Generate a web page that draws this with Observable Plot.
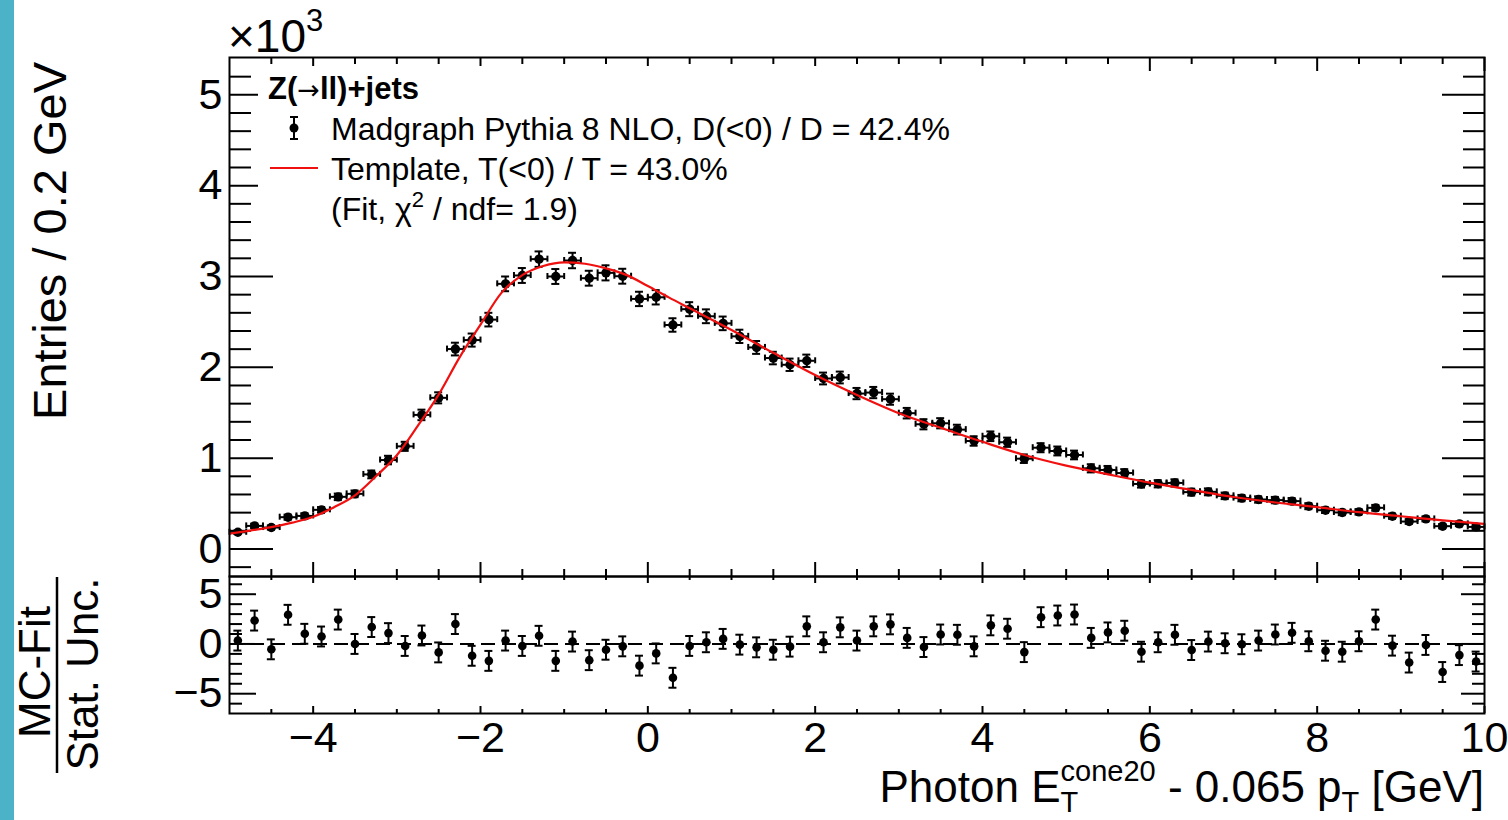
<!DOCTYPE html>
<html><head><meta charset="utf-8">
<script src="https://cdn.jsdelivr.net/npm/d3@7"></script>
<script src="https://cdn.jsdelivr.net/npm/@observablehq/plot@0.6"></script>
<style>
html,body{margin:0;padding:0;background:#fff;}
#wrap{position:relative;width:1508px;height:820px;overflow:hidden;background:#fff;}
#stripe{position:absolute;left:0;top:0;width:14px;height:820px;background:#4cb2c8;}
.layer{position:absolute;left:0;top:0;}
</style></head>
<body><div id="wrap"><div id="stripe"></div></div>
<script>
// ---------------- data ----------------
const binCenters = [-4.9,-4.7,-4.5,-4.3,-4.1,-3.9,-3.7,-3.5,-3.3,-3.1,-2.9,-2.7,-2.5,-2.3,-2.1,-1.9,-1.7,-1.5,-1.3,-1.1,-0.9,-0.7,-0.5,-0.3,-0.1,
  0.1,0.3,0.5,0.7,0.9,1.1,1.3,1.5,1.7,1.9,2.1,2.3,2.5,2.7,2.9,3.1,3.3,3.5,3.7,3.9,4.1,4.3,4.5,4.7,4.9,
  5.1,5.3,5.5,5.7,5.9,6.1,6.3,6.5,6.7,6.9,7.1,7.3,7.5,7.7,7.9,8.1,8.3,8.5,8.7,8.9,9.1,9.3,9.5,9.7,9.9];
const entries = [184,254,236,350,364,431,574,607,821,979,1130,1476,1664,2201,2300,2525,2919,3011,3191,3000,3176,2981,3040,3003,2753,
  2771,2466,2640,2562,2484,2341,2219,2102,2028,2072,1877,1888,1711,1722,1649,1495,1373,1384,1314,1189,1241,1175,994,1115,1079,
  1035,888,870,836,716,718,727,626,629,585,560,545,538,527,471,427,402,409,453,361,302,331,251,276,243];
const entryErrors = [20,24,23,28,29,31,36,37,43,47,50,58,61,70,72,75,81,82,85,82,85,82,83,82,79,
  79,74,77,76,75,73,71,69,68,68,65,65,62,62,61,58,56,56,54,52,53,51,47,50,49,
  48,45,44,43,40,40,40,38,38,36,35,35,35,34,33,31,30,30,32,29,26,27,24,25,23];
const pulls = [0.34,2.35,-0.54,2.93,1.02,0.75,2.45,0.0,1.70,1.09,-0.2,0.85,-0.85,2.0,-1.19,-1.70,0.34,-0.2,0.82,-1.70,0.24,-1.63,-0.58,-0.24,-2.18,
  -0.95,-3.40,-0.2,0.17,0.51,-0.07,-0.34,-0.58,-0.27,1.77,0.17,1.67,0.34,1.77,1.97,0.61,-0.31,0.95,0.92,-0.24,1.87,1.53,-0.82,2.69,2.86,
  2.96,0.61,1.16,1.33,-0.78,0.17,0.92,-0.61,0.24,0.07,-0.03,0.34,0.95,1.12,0.27,-0.68,-0.78,0.27,2.45,-0.17,-1.87,-0.10,-2.82,-1.12,-1.77];
const fitX = [-5,-4.75,-4.5,-4.25,-4,-3.75,-3.5,-3.25,-3,-2.75,-2.5,-2.25,-2,-1.75,-1.5,-1.25,-1,-0.75,-0.5,-0.25,0,0.25,0.5,1,1.5,2,2.5,3,3.5,4,4.5,5,5.5,6,6.5,7,7.5,8,8.5,9,9.5,10];
const fitY = [170,203,240,290,355,460,590,800,1032,1355,1700,2110,2470,2820,3015,3115,3155,3140,3090,3015,2895,2770,2650,2410,2160,1915,1695,1495,1335,1180,1035,918,822,730,650,572,512,460,405,360,315,275];

const xMajorTicks = [-4,-2,0,2,4,6,8,10];
const xTickLabels = ["\u22124","\u22122","0","2","4","6","8","10"];
const xMinorTicks = [-4.5,-3.5,-3,-2.5,-1.5,-1,-0.5,0.5,1,1.5,2.5,3,3.5,4.5,5,5.5,6.5,7,7.5,8.5,9,9.5];
const yMajorTicks = [0,1000,2000,3000,4000,5000];
const yTickLabels = ["0","1","2","3","4","5"];
const yMinorTicks = [-200,200,400,600,800,1200,1400,1600,1800,2200,2400,2600,2800,3200,3400,3600,3800,4200,4400,4600,4800,5200];
const pullMajorTicks = [-5,0,5];
const pullTickLabels = ["\u22125","0","5"];
const pullMinorTicks = [-6,-4,-3,-2,-1,1,2,3,4,6];

// ---------------- layout ----------------
const FONT = '"Liberation Sans", Arial, Helvetica, sans-serif';
const W = 1508, H = 820, L = 229, R = 1484, T = 57, MID = 576, B = 713;
const frameW = R - L, upperH = MID - T, lowerH = B - MID;

const pts = binCenters.map((x, i) => ({x, y: entries[i], err: entryErrors[i]}));
const pullPts = binCenters.map((x, i) => ({x, p: pulls[i]}));
const fit = fitX.map((x, i) => ({x, y: fitY[i]}));
const K = {stroke: "#000", strokeWidth: 2};

const upper = Plot.plot({
  width: W, height: H,
  marginLeft: L, marginRight: W - R, marginTop: T, marginBottom: H - MID,
  x: {domain: [-5, 10], axis: null},
  y: {domain: [-303, 5411], axis: null},
  style: {background: "transparent", fontFamily: FONT, overflow: "visible"},
  marks: [
    Plot.tickY(yMajorTicks, {y: d => d, ...K, insetRight: frameW - 44}),
    Plot.tickY(yMinorTicks, {y: d => d, ...K, insetRight: frameW - 22}),
    Plot.tickY(yMajorTicks, {y: d => d, ...K, insetLeft: frameW - 42}),
    Plot.tickY(yMinorTicks, {y: d => d, ...K, insetLeft: frameW - 21}),
    Plot.tickX(xMajorTicks, {x: d => d, ...K, insetTop: upperH - 14}),
    Plot.tickX(xMinorTicks, {x: d => d, ...K, insetTop: upperH - 7}),
    Plot.tickX(xMajorTicks, {x: d => d, ...K, insetBottom: upperH - 14}),
    Plot.tickX(xMinorTicks, {x: d => d, ...K, insetBottom: upperH - 7}),
    Plot.text(yMajorTicks, {y: d => d, text: (d, i) => yTickLabels[i], frameAnchor: "left", textAnchor: "end", lineAnchor: "middle", dx: -7, fontSize: 43, fill: "#000"}),
    // horizontal bin-width bars with end caps
    Plot.ruleY(pts, {y: "y", x1: d => d.x - 0.1, x2: d => d.x + 0.1, ...K}),
    Plot.ruleX(pts, {x: d => d.x - 0.1, y1: "y", y2: "y", insetTop: -3, insetBottom: -3, ...K}),
    Plot.ruleX(pts, {x: d => d.x + 0.1, y1: "y", y2: "y", insetTop: -3, insetBottom: -3, ...K}),
    // vertical stat bars with caps
    Plot.ruleX(pts, {x: "x", y1: d => d.y - d.err, y2: d => d.y + d.err, ...K}),
    Plot.ruleY(pts, {y: d => d.y + d.err, x1: "x", x2: "x", insetLeft: -4, insetRight: -4, ...K}),
    Plot.ruleY(pts, {y: d => d.y - d.err, x1: "x", x2: "x", insetLeft: -4, insetRight: -4, ...K}),
    Plot.dot(pts, {x: "x", y: "y", r: 4.7, fill: "#000"}),
    Plot.line(fit, {x: "x", y: "y", curve: "monotone-x", stroke: "#f01010", strokeWidth: 2.2, clip: true}),
    Plot.frame({stroke: "#000", strokeWidth: 2})
  ]
});

const lower = Plot.plot({
  width: W, height: H,
  marginLeft: L, marginRight: W - R, marginTop: MID, marginBottom: H - B,
  x: {domain: [-5, 10], axis: null},
  y: {domain: [-6.99, 6.78], axis: null},
  style: {background: "transparent", fontFamily: FONT, overflow: "visible"},
  marks: [
    Plot.tickY(pullMajorTicks, {y: d => d, ...K, insetRight: frameW - 27}),
    Plot.tickY(pullMinorTicks, {y: d => d, ...K, insetRight: frameW - 13}),
    Plot.tickY(pullMajorTicks, {y: d => d, ...K, insetLeft: frameW - 23}),
    Plot.tickY(pullMinorTicks, {y: d => d, ...K, insetLeft: frameW - 12}),
    Plot.tickX(xMajorTicks, {x: d => d, ...K, insetTop: lowerH - 7}),
    Plot.tickX(xMinorTicks, {x: d => d, ...K, insetTop: lowerH - 4}),
    Plot.tickX(xMajorTicks, {x: d => d, ...K, insetBottom: lowerH - 7}),
    Plot.tickX(xMinorTicks, {x: d => d, ...K, insetBottom: lowerH - 4}),
    Plot.text(pullMajorTicks, {y: d => d, text: (d, i) => pullTickLabels[i], frameAnchor: "left", textAnchor: "end", lineAnchor: "middle", dx: -7, fontSize: 43, fill: "#000"}),
    Plot.text(xMajorTicks, {x: d => d, text: (d, i) => xTickLabels[i], frameAnchor: "bottom", lineAnchor: "middle", dy: 25, fontSize: 43, fill: "#000"}),
    Plot.ruleY([0], {y: d => d, stroke: "#000", strokeWidth: 2, strokeDasharray: "14,7"}),
    Plot.ruleX(pullPts, {x: "x", y1: d => d.p - 1, y2: d => d.p + 1, ...K}),
    Plot.ruleY(pullPts, {y: d => d.p + 1, x1: "x", x2: "x", insetLeft: -4, insetRight: -4, ...K}),
    Plot.ruleY(pullPts, {y: d => d.p - 1, x1: "x", x2: "x", insetLeft: -4, insetRight: -4, ...K}),
    Plot.dot(pullPts, {x: "x", y: "p", r: 4.3, fill: "#000"}),
    Plot.frame({stroke: "#000", strokeWidth: 2})
  ]
});

const wrap = document.getElementById("wrap");
for (const p of [lower, upper]) { p.classList.add("layer"); wrap.appendChild(p); }

// ---------------- titles & legend ----------------
const ov = d3.select(wrap).append("svg").attr("class", "layer")
  .attr("width", W).attr("height", H).attr("font-family", FONT)
  .style("white-space", "pre").attr("fill", "#000");

// legend box
ov.append("rect").attr("x", 258).attr("y", 66).attr("width", 730).attr("height", 166).attr("fill", "#fff");
const h = ov.append("text").attr("x", 268).attr("y", 99).attr("font-size", 31).attr("font-weight", "bold");
h.append("tspan").text("Z(");
h.append("tspan").attr("font-weight", "normal").attr("font-family", '"DejaVu Sans", sans-serif').attr("font-size", 27).text("\u2192");
h.append("tspan").text("ll)+jets");
// data glyph
ov.append("line").attr("x1", 294).attr("x2", 294).attr("y1", 117).attr("y2", 139).attr("stroke", "#000").attr("stroke-width", 2);
ov.append("line").attr("x1", 290).attr("x2", 298).attr("y1", 117).attr("y2", 117).attr("stroke", "#000").attr("stroke-width", 2);
ov.append("line").attr("x1", 290).attr("x2", 298).attr("y1", 139).attr("y2", 139).attr("stroke", "#000").attr("stroke-width", 2);
ov.append("circle").attr("cx", 294).attr("cy", 128).attr("r", 4.5).attr("fill", "#000");
ov.append("text").attr("x", 331).attr("y", 139.5).attr("font-size", 32).text("Madgraph Pythia 8 NLO, D(<0) / D = 42.4%");
// template glyph
ov.append("line").attr("x1", 270).attr("x2", 318).attr("y1", 168).attr("y2", 168).attr("stroke", "#f01010").attr("stroke-width", 2.2);
ov.append("text").attr("x", 331).attr("y", 179.5).attr("font-size", 32).text("Template, T(<0) / T = 43.0%");
const f = ov.append("text").attr("x", 331).attr("y", 220).attr("font-size", 32);
f.append("tspan").text("(Fit, \u03c7");
f.append("tspan").attr("font-size", 22).attr("dy", -13).text("2");
f.append("tspan").attr("dy", 13).text(" / ndf= 1.9)");

// x10^3
const e = ov.append("text").attr("x", 228).attr("y", 52).attr("font-size", 46);
e.append("tspan").text("\u00d710");
e.append("tspan").attr("font-size", 31).attr("dy", -21).text("3");

// y titles
ov.append("text").attr("transform", "translate(66,62) rotate(-90)").attr("text-anchor", "end").attr("font-size", 47).text("Entries / 0.2 GeV");
ov.append("text").attr("transform", "translate(50,672) rotate(-90)").attr("text-anchor", "middle").attr("font-size", 44).text("MC-Fit");
ov.append("line").attr("x1", 57).attr("x2", 57).attr("y1", 577).attr("y2", 773).attr("stroke", "#000").attr("stroke-width", 2.5);
ov.append("text").attr("transform", "translate(98,674) rotate(-90)").attr("text-anchor", "middle").attr("font-size", 44).text("Stat. Unc.");

// x title
const xt = ov.append("text").attr("x", 0).attr("y", 802).attr("font-size", 44);
xt.append("tspan").text("Photon E");
const sup = xt.append("tspan").attr("font-size", 29).attr("dy", -21).text("cone20");
const sub = xt.append("tspan").attr("font-size", 29).attr("dy", 31).text("T");
const rest = xt.append("tspan").attr("font-size", 44).attr("dy", -10).text(" - 0.065 p");
xt.append("tspan").attr("font-size", 29).attr("dy", 10).text("T");
xt.append("tspan").attr("font-size", 44).attr("dy", -10).text(" [GeV]");
const wSup = sup.node().getComputedTextLength();
const wSub = sub.node().getComputedTextLength();
sub.attr("dx", -wSup);
rest.attr("dx", wSup - wSub);
const bb = xt.node().getBBox();
xt.attr("x", R - (bb.x + bb.width));
</script>
</body></html>
